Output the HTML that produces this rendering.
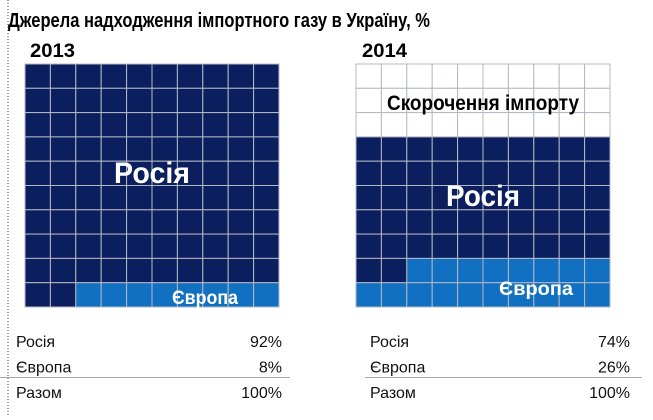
<!DOCTYPE html>
<html><head><meta charset="utf-8"><style>
body{margin:0;background:#fff;width:653px;height:415px;overflow:hidden;font-family:"Liberation Sans",sans-serif}
</style></head><body>
<svg id="chart" width="653" height="415" xmlns="http://www.w3.org/2000/svg" font-family="Liberation Sans, sans-serif">
<line x1="8" y1="0" x2="8" y2="415" stroke="#555" stroke-dasharray="1,2"/>
<text x="8" y="27" font-size="20" font-weight="bold" textLength="422" lengthAdjust="spacingAndGlyphs">Джерела надходження імпортного газу в Україну, %</text>
<g id="grids"></g>
<text x="30" y="57" font-size="19" font-weight="bold" textLength="45" lengthAdjust="spacingAndGlyphs">2013</text>
<text x="362" y="57" font-size="19" font-weight="bold" textLength="45" lengthAdjust="spacingAndGlyphs">2014</text>
<text x="152" y="183" font-size="30" font-weight="bold" fill="#fff" text-anchor="middle" textLength="76" lengthAdjust="spacingAndGlyphs">Росія</text>
<text x="205" y="304" font-size="19" font-weight="bold" fill="#fff" text-anchor="middle" textLength="66" lengthAdjust="spacingAndGlyphs">Європа</text>
<text x="483" y="110" font-size="21" font-weight="bold" fill="#000" text-anchor="middle" textLength="192" lengthAdjust="spacingAndGlyphs">Скорочення імпорту</text>
<text x="483" y="206" font-size="30" font-weight="bold" fill="#fff" text-anchor="middle" textLength="74" lengthAdjust="spacingAndGlyphs">Росія</text>
<text x="536" y="295" font-size="19" font-weight="bold" fill="#fff" text-anchor="middle" textLength="74" lengthAdjust="spacingAndGlyphs">Європа</text>
<g id="tables" font-size="16" fill="#111"></g>
</svg>
<script>
const years = ['2013','2014'];
const cutCells = [0, 30];
const russiaCells = [92, 52];
const europeCells = [8, 18];
const rowLabels = ['Росія','Європа','Разом'];
const pctRussia = ['92%','74%'];
const pctEurope = ['8%','26%'];
const pctTotal = ['100%','100%'];

const NS='http://www.w3.org/2000/svg';
const gx=[25,356], gw=[254,254], gy=64, gh=243;
const colors={cut:'#ffffff',ru:'#0b1f5e',eu:'#1170c2'};
const grids=document.getElementById('grids');
years.forEach((y,k)=>{
  const cw=gw[k]/10, ch=gh/10;
  for(let i=0;i<100;i++){
    const r=Math.floor(i/10), c=i%10;
    let t = i<cutCells[k]?'cut':(i<cutCells[k]+russiaCells[k]?'ru':(i<cutCells[k]+russiaCells[k]+europeCells[k]?'eu':'cut'));
    const rect=document.createElementNS(NS,'rect');
    rect.setAttribute('x',gx[k]+c*cw);rect.setAttribute('y',gy+r*ch);
    rect.setAttribute('width',cw);rect.setAttribute('height',ch);
    rect.setAttribute('fill',colors[t]);rect.setAttribute('stroke','#b4b8c4');rect.setAttribute('stroke-width','1');
    
    
    grids.appendChild(rect);
  }
});
const tables=document.getElementById('tables');
const tx=[16,370], tr=[290,638], lineX=[[0,290],[365,642]];
const vals=[pctRussia,pctEurope,pctTotal];
years.forEach((y,k)=>{
  rowLabels.forEach((lab,j)=>{
    const yy=347+j*25.5;
    const a=document.createElementNS(NS,'text');
    a.setAttribute('x',tx[k]);a.setAttribute('y',yy);a.textContent=lab;
    
    
    tables.appendChild(a);
    const b=document.createElementNS(NS,'text');
    b.setAttribute('x',tr[k]-8);b.setAttribute('y',yy);b.setAttribute('text-anchor','end');b.textContent=vals[j][k];
    
    
    tables.appendChild(b);
  });
  const l=document.createElementNS(NS,'line');
  l.setAttribute('x1',lineX[k][0]);l.setAttribute('x2',lineX[k][1]);l.setAttribute('y1',377.5);l.setAttribute('y2',377.5);
  l.setAttribute('stroke','#aaa');
  
  
  tables.appendChild(l);
});
</script>
</body></html>
